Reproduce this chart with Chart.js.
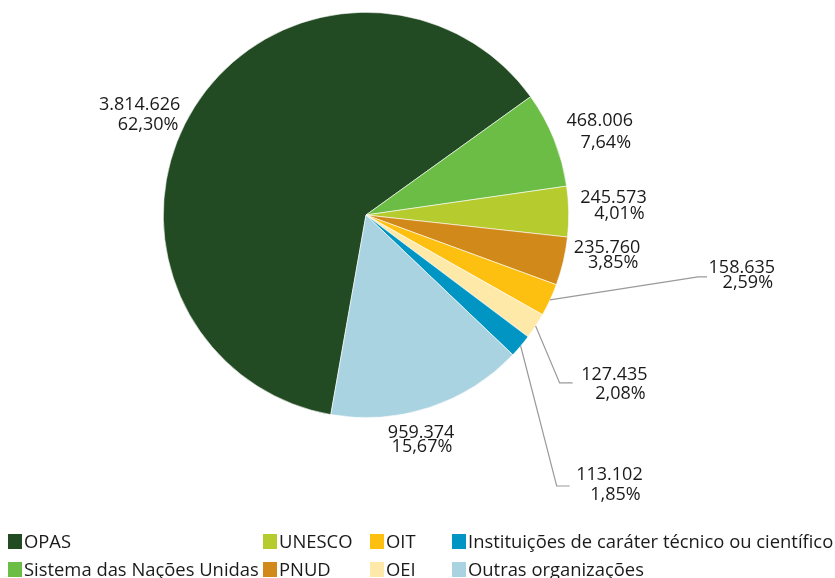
<!DOCTYPE html>
<html>
<head>
<meta charset="utf-8">
<script src="https://cdn.jsdelivr.net/npm/chart.js@4.4.0/dist/chart.umd.min.js"></script>
<style>
  html, body { margin: 0; padding: 0; background: #fff; }
  #wrap { position: relative; width: 835px; height: 578px; overflow: hidden; }
  #c { position: absolute; left: 0; top: 0; }
  .lg { position: absolute; font-family: "Open Sans", sans-serif; font-size: 18.4px; color: #1a1a1a; white-space: nowrap; line-height: 20px; }
  .sw { position: absolute; width: 14px; height: 15px; }
</style>
</head>
<body>
<div id="wrap">
  <canvas id="c" width="835" height="578"></canvas>
  <div id="legend"></div>
</div>
<script>
// ---- data ----
const categories = ["OPAS", "Sistema das Nações Unidas", "UNESCO", "PNUD", "OIT", "OEI",
                    "Instituições de caráter técnico ou científico", "Outras organizações"];
const values = [3814626, 468006, 245573, 235760, 158635, 127435, 113102, 959374];
const valueLabels = ["3.814.626", "468.006", "245.573", "235.760", "158.635", "127.435", "113.102", "959.374"];
const percentLabels = ["62,30%", "7,64%", "4,01%", "3,85%", "2,59%", "2,08%", "1,85%", "15,67%"];
const colors = ["#234b23", "#6cbd45", "#b5cb2e", "#d1891a", "#fdc010", "#fee9a8", "#0095c2", "#aad3e1"];

// ---- label layout (offsets relative to each slice's outer midpoint) ----
// [rightX, line1Y, line2Y]
const labelOffsets = [
  [-14, -2, 18],
  [79, -18, 4],
  [78, -14, 2],
  [77, -13, 2],
  [225, -32, -17],
  [112, 49, 68],
  [122, 129, 149],
  [25, 25, 39]
];
// leader lines: [elbowDx, elbowDy, endDx, endDy] or null
const leaders = [null, null, null, null, [148, -23, 157, -23], [24, 57, 37, 57], [36, 140, 49, 140], null];

// legend layout: column-wise
const legendCols = [8, 263, 370, 452];
const legendRows = [541, 569];

const labelPlugin = {
  id: 'sliceLabels',
  afterDatasetsDraw(chart) {
    const ctx = chart.ctx;
    const meta = chart.getDatasetMeta(0);
    ctx.save();
    ctx.font = '18px "Open Sans", sans-serif';
    ctx.fillStyle = '#1a1a1a';
    ctx.textAlign = 'right';
    ctx.textBaseline = 'middle';
    meta.data.forEach((arc, i) => {
      const p = arc.getProps(['x', 'y', 'startAngle', 'endAngle', 'outerRadius'], true);
      const mid = (p.startAngle + p.endAngle) / 2;
      const mx = p.x + Math.cos(mid) * p.outerRadius;
      const my = p.y + Math.sin(mid) * p.outerRadius;
      const ld = leaders[i];
      if (ld) {
        ctx.strokeStyle = '#9a9a9a';
        ctx.lineWidth = 1.2;
        ctx.beginPath();
        ctx.moveTo(mx, my);
        ctx.lineTo(mx + ld[0], my + ld[1]);
        ctx.lineTo(mx + ld[2], my + ld[3]);
        ctx.stroke();
      }
      const o = labelOffsets[i];
      ctx.fillText(valueLabels[i], mx + o[0], my + o[1]);
      ctx.fillText(percentLabels[i], mx + o[0] - 2, my + o[2]);
    });
    ctx.restore();
  }
};

new Chart(document.getElementById('c'), {
  type: 'pie',
  data: {
    labels: categories,
    datasets: [{
      data: values,
      backgroundColor: colors,
      borderColor: '#ffffff',
      borderWidth: 0.6
    }]
  },
  options: {
    responsive: false,
    animation: false,
    rotation: 190,
    layout: { padding: { left: 163, right: 266, top: 12, bottom: 160 } },
    plugins: { legend: { display: false }, tooltip: { enabled: false } }
  },
  plugins: [labelPlugin]
});

// ---- legend (column-wise, 2 rows) ----
const lg = document.getElementById('legend');
categories.forEach((name, i) => {
  const col = Math.floor(i / 2), row = i % 2;
  const x = legendCols[col], yc = legendRows[row];
  const sw = document.createElement('div');
  sw.className = 'sw';
  sw.style.left = x + 'px';
  sw.style.top = (yc - 7) + 'px';
  sw.style.background = colors[i];
  lg.appendChild(sw);
  const t = document.createElement('div');
  t.className = 'lg';
  t.textContent = name;
  t.style.left = (x + 16) + 'px';
  t.style.top = (yc - 10) + 'px';
  lg.appendChild(t);
});
</script>
</body>
</html>
